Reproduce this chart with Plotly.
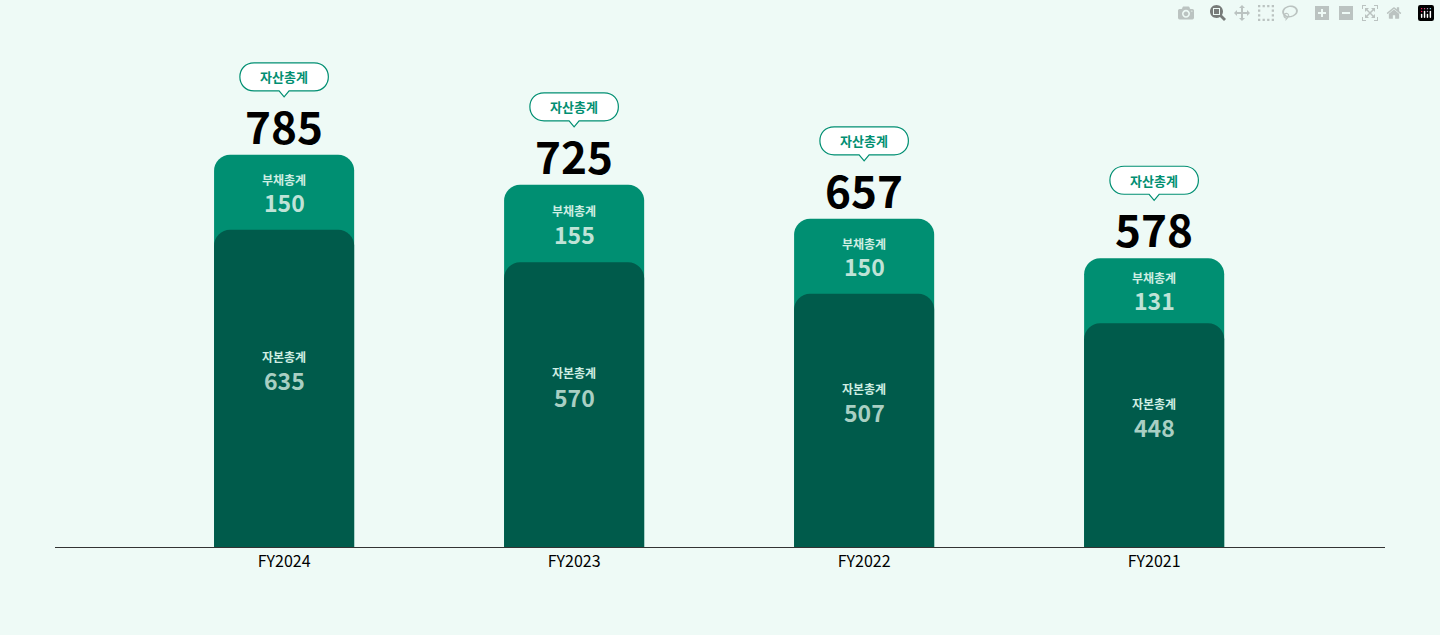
import plotly.graph_objects as go

years = ["FY2024", "FY2023", "FY2022", "FY2021"]
total_assets = [785, 725, 657, 578]
liabilities = [150, 155, 150, 131]
equity = [635, 570, 507, 448]

GREEN = "#008f72"
DARK = "#005b4b"
BG = "#eefaf6"
FONT = "Noto Sans CJK KR"

xs = list(range(len(years)))

fig = go.Figure()
fig.add_trace(go.Bar(x=xs, y=total_assets, width=0.483, marker=dict(color=GREEN, cornerradius=16, line_width=0),
                     hoverinfo="skip"))
# equity on an overlaid axis so its top corners are rounded too
fig.add_trace(go.Bar(x=xs, y=equity, width=0.483, xaxis="x2", marker=dict(color=DARK, cornerradius=16, line_width=0),
                     hoverinfo="skip"))

callout = ("M -5,64 L 0,58 L 5,64 L 30,64 C 49,64 49,92 30,92 "
           "L -30,92 C -49,92 -49,64 -30,64 Z")

for x, t, l, e in zip(xs, total_assets, liabilities, equity):
    fig.add_shape(type="path", xref="x", yref="y", xsizemode="pixel", ysizemode="pixel",
                  xanchor=x, yanchor=t, path=callout,
                  line=dict(color=GREEN, width=1.2), fillcolor="white")
    fig.add_annotation(x=x, y=t, yshift=78, text="<b>자산총계</b>", showarrow=False,
                       font=dict(family=FONT, size=13, color=GREEN))
    fig.add_annotation(x=x, y=t, yshift=30, text=f"<b>{t}</b>", showarrow=False,
                       font=dict(family=FONT, size=44, color="black"))
    mid_l = e + l / 2
    fig.add_annotation(x=x, y=mid_l, yshift=13, text="<b>부채총계</b>", showarrow=False,
                       font=dict(family=FONT, size=12, color="#cfeee3"))
    fig.add_annotation(x=x, y=mid_l, yshift=-10, text=f"<b>{l}</b>", showarrow=False,
                       font=dict(family=FONT, size=23, color="#bfe3d7"))
    mid_e = e / 2
    fig.add_annotation(x=x, y=mid_e, yshift=32, text="<b>자본총계</b>", showarrow=False,
                       font=dict(family=FONT, size=12, color="#cfeee3"))
    fig.add_annotation(x=x, y=mid_e, yshift=8, text=f"<b>{e}</b>", showarrow=False,
                       font=dict(family=FONT, size=23, color="#a9cfc3"))

fig.update_layout(
    width=1440, height=635, barmode="overlay", showlegend=False,
    paper_bgcolor=BG, plot_bgcolor=BG,
    margin=dict(l=55, r=55, t=20, b=88),
    xaxis=dict(range=[-0.79, 3.796], tickvals=xs, ticktext=years, showgrid=False, zeroline=False,
               showline=True, linecolor="#333", linewidth=1, ticks="",
               tickfont=dict(family=FONT, size=16, color="black")),
    xaxis2=dict(range=[-0.79, 3.796], overlaying="x", visible=False),
    yaxis=dict(range=[0, 1055], visible=False),
)

fig.write_html("out.html")

# drop the default page margin so the figure fills the window
with open("out.html", encoding="utf-8") as f:
    html = f.read()
html = html.replace("<head>", "<head><style>body{margin:0;background:#eefaf6}</style>", 1)
with open("out.html", "w", encoding="utf-8") as f:
    f.write(html)
